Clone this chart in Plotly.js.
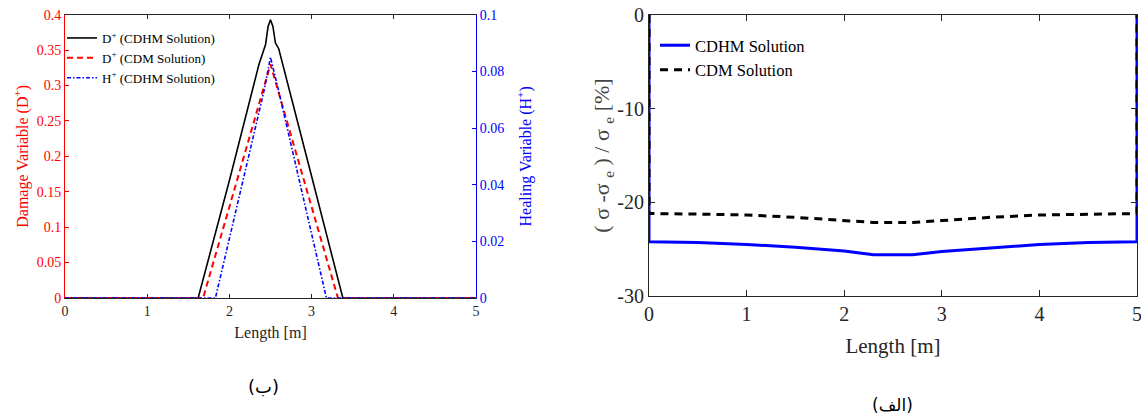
<!DOCTYPE html>
<html>
<head>
<meta charset="utf-8">
<script src="https://cdn.plot.ly/plotly-3.0.1.min.js"></script>
<style>html,body{margin:0;padding:0;background:#fff;}#chart{width:1141px;height:419px;}</style>
</head>
<body>
<div id="chart"></div>
<script>
// ---- Left chart (ب): damage / healing variables ----
const xDamageCDHM = [0, 1.62, 2.0, 2.36, 2.44, 2.47, 2.5, 2.53, 2.56, 2.6, 3.0, 3.38, 5];
const damageCDHM  = [0, 0, 0.166, 0.33, 0.358, 0.383, 0.393, 0.383, 0.36, 0.352, 0.172, 0, 0];
const xDamageCDM  = [0, 1.68, 2.5, 3.32, 5];
const damageCDM   = [0, 0, 0.33, 0, 0];
const xHealing    = [0, 1.83, 2.42, 2.5, 2.6, 3.18, 5];
const healingCDHM = [0, 0, 0.073, 0.085, 0.073, 0, 0];
const leftNames = ['D<sup>+</sup> (CDHM Solution)', 'D<sup>+</sup> (CDM Solution)', 'H<sup>+</sup> (CDHM Solution)'];
const leftXTicks = [0, 1, 2, 3, 4, 5];
const damageTicks = [0, 0.05, 0.1, 0.15, 0.2, 0.25, 0.3, 0.35, 0.4];
const damageTickText = ['0', '0.05', '0.1', '0.15', '0.2', '0.25', '0.3', '0.35', '0.4'];
const healingTicks = [0, 0.02, 0.04, 0.06, 0.08, 0.1];
const healingTickText = ['0', '0.02', '0.04', '0.06', '0.08', '0.1'];

// ---- Right chart (الف): stress deviation ----
const xStress    = [0, 0, 0.5, 1, 1.5, 2, 2.3, 2.5, 2.7, 3, 3.5, 4, 4.5, 5, 5];
const stressCDHM = [0, -24.2, -24.3, -24.5, -24.8, -25.2, -25.6, -25.6, -25.6, -25.25, -24.85, -24.5, -24.3, -24.2, 0];
const stressCDM  = [0, -21.2, -21.25, -21.35, -21.6, -21.95, -22.15, -22.15, -22.15, -21.95, -21.6, -21.35, -21.25, -21.2, 0];
const rightNames = ['CDHM Solution', 'CDM Solution'];
const rightXTicks = [0, 1, 2, 3, 4, 5];
const rightXTickText = ['0', '1', '2', '3', '4', '5'];
const stressTicks = [0, -10, -20, -30];
const stressTickText = ['0', '-10', '-20', '-30'];

const serif = '"Liberation Serif", "Times New Roman", serif';
const sans = '"DejaVu Sans", "Noto Sans", sans-serif';
const W = 1141, H = 419;
const dark = '#262626';

const traces = [
  {x: xDamageCDHM, y: damageCDHM, name: leftNames[0], type: 'scatter', mode: 'lines',
   line: {color: '#000000', width: 1.6}, xaxis: 'x', yaxis: 'y', legend: 'legend'},
  {x: xDamageCDM, y: damageCDM, name: leftNames[1], type: 'scatter', mode: 'lines',
   line: {color: '#ff0000', width: 2, dash: '6px,4px'}, xaxis: 'x', yaxis: 'y', legend: 'legend'},
  {x: xHealing, y: healingCDHM, name: leftNames[2], type: 'scatter', mode: 'lines',
   line: {color: '#0000ff', width: 1.6, dash: '4px,2px,1.5px,2px'}, xaxis: 'x', yaxis: 'y2', legend: 'legend'},
  {x: xStress, y: stressCDHM, name: rightNames[0], type: 'scatter', mode: 'lines',
   line: {color: '#0000ff', width: 3}, xaxis: 'x3', yaxis: 'y3', legend: 'legend2'},
  {x: xStress, y: stressCDM, name: rightNames[1], type: 'scatter', mode: 'lines',
   line: {color: '#000000', width: 3, dash: '8px,6px'}, xaxis: 'x3', yaxis: 'y3', legend: 'legend2'}
];

const Lx0 = 65, Lx1 = 476, Ly0 = 14.7, Ly1 = 298;
const Rx0 = 649, Rx1 = 1137, Ry0 = 15, Ry1 = 296;

const layout = {
  width: W, height: H,
  margin: {l: 0, r: 0, t: 0, b: 0},
  paper_bgcolor: '#ffffff', plot_bgcolor: '#ffffff',
  showlegend: true,
  font: {family: serif, color: dark},
  xaxis: {
    domain: [Lx0 / W, Lx1 / W], anchor: 'y', range: [0, 5],
    tickvals: leftXTicks, ticks: 'inside', ticklen: 4, tickcolor: dark,
    showline: true, linecolor: dark, linewidth: 1, mirror: 'ticks',
    showgrid: false, zeroline: false,
    tickfont: {family: serif, size: 14, color: dark},
    title: {text: 'Length [m]', font: {family: serif, size: 16, color: dark}, standoff: 9}
  },
  yaxis: {
    domain: [(H - Ly1) / H, (H - Ly0) / H], anchor: 'x', range: [0, 0.4],
    tickvals: damageTicks, ticktext: damageTickText, ticks: 'inside', ticklen: 4, tickcolor: '#ff0000',
    showline: true, linecolor: '#ff0000', linewidth: 1,
    showgrid: false, zeroline: false,
    tickfont: {family: serif, size: 14, color: '#ff0000'},
    title: {text: 'Damage Variable (D<sup>+</sup>)', font: {family: serif, size: 16, color: '#ff0000'}, standoff: 4}
  },
  yaxis2: {
    overlaying: 'y', side: 'right', anchor: 'x', range: [0, 0.1],
    tickvals: healingTicks, ticktext: healingTickText, ticks: 'inside', ticklen: 4, tickcolor: '#0000ff',
    showline: true, linecolor: '#0000ff', linewidth: 1,
    showgrid: false, zeroline: false,
    tickfont: {family: serif, size: 14, color: '#0000ff'},
    title: {text: 'Healing Variable (H<sup>+</sup>)', font: {family: serif, size: 16, color: '#0000ff'}, standoff: 16}
  },
  xaxis3: {
    domain: [Rx0 / W, Rx1 / W], anchor: 'y3', range: [0, 5],
    tickvals: rightXTicks, ticktext: rightXTickText, ticks: 'inside', ticklen: 6, tickcolor: dark,
    ticklabeloverflow: 'allow',
    showline: true, linecolor: dark, linewidth: 1, mirror: 'ticks',
    showgrid: false, zeroline: false,
    tickfont: {family: serif, size: 20, color: dark},
    title: {text: 'Length [m]', font: {family: serif, size: 21, color: dark}, standoff: 14}
  },
  yaxis3: {
    domain: [(H - Ry1) / H, (H - Ry0) / H], anchor: 'x3', range: [-30, 0],
    tickvals: stressTicks, ticktext: stressTickText, ticks: 'inside', ticklen: 6, tickcolor: dark,
    showline: true, linecolor: dark, linewidth: 1, mirror: 'ticks',
    showgrid: false, zeroline: false,
    tickfont: {family: serif, size: 20, color: dark},
    title: {text: '( σ -σ <sub>e</sub> ) / σ <sub>e</sub> [%]', font: {family: serif, size: 22, color: '#444'}, standoff: 1}
  },
  legend: {
    x: 62 / W, y: 1 - 23 / H, xanchor: 'left', yanchor: 'top',
    bgcolor: 'rgba(0,0,0,0)', borderwidth: 0, tracegroupgap: 0, itemwidth: 30,
    font: {family: serif, size: 13, color: '#000'}
  },
  legend2: {
    x: 655 / W, y: 1 - 28 / H, xanchor: 'left', yanchor: 'top',
    bgcolor: 'rgba(0,0,0,0)', borderwidth: 0, tracegroupgap: 0, itemwidth: 30,
    font: {family: serif, size: 16.5, color: '#000'}
  },
  annotations: [
    {text: '(ب)', xref: 'paper', yref: 'paper', x: 263 / W, y: 1 - 386 / H, showarrow: false,
     xanchor: 'center', yanchor: 'middle', font: {family: sans, size: 18, color: '#000'}},
    {text: '(الف)', xref: 'paper', yref: 'paper', x: 892 / W, y: 1 - 405 / H, showarrow: false,
     xanchor: 'center', yanchor: 'middle', font: {family: sans, size: 17, color: '#000'}}
  ]
};

Plotly.newPlot('chart', traces, layout, {staticPlot: true, displayModeBar: false});
</script>
</body>
</html>
